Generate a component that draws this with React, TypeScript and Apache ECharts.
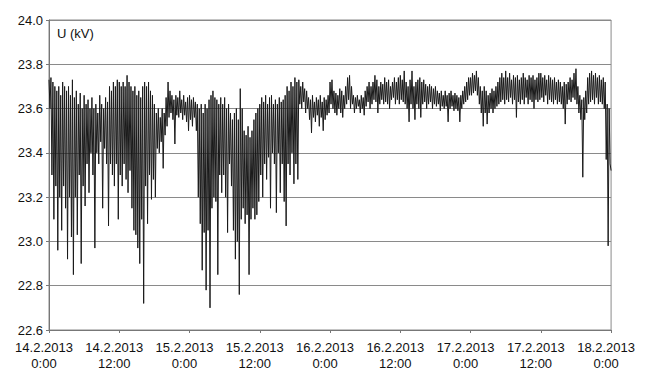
import React, { useEffect, useRef } from "react";
import * as echarts from "echarts";

// 10-minute samples starting 14.2.2013 0:00, values in kV
const day14am = [
  23.73, 23.60, 23.74, 23.30, 23.72, 23.10, 23.70, 23.25, 23.68, 22.96, 23.70, 23.20,
  23.66, 23.05, 23.72, 23.25, 23.70, 23.15, 23.68, 22.92, 23.70, 23.20, 23.66, 23.02,
  23.73, 22.85, 23.65, 23.20, 23.68, 23.03, 23.62, 23.30, 23.67, 22.90, 23.60, 23.25,
  23.66, 23.16, 23.62, 23.35, 23.64, 23.22, 23.60, 23.40, 23.65, 23.30, 23.60, 22.97,
  23.62, 23.40, 23.58, 23.35, 23.66, 23.45, 23.62, 23.15, 23.60, 23.42, 23.65, 23.35,
  23.63, 23.07, 23.70, 23.35, 23.68, 23.30, 23.72, 23.25, 23.70, 23.35, 23.73, 23.10,
];
const day14pm = [
  23.72, 23.30, 23.70, 23.25, 23.72, 23.35, 23.70, 23.28, 23.75, 23.22, 23.72, 23.32,
  23.70, 23.15, 23.68, 23.05, 23.70, 23.03, 23.66, 22.97, 23.68, 22.90, 23.65, 23.10,
  23.70, 22.72, 23.72, 23.25, 23.70, 23.08, 23.72, 23.30, 23.68, 23.19, 23.66, 23.28,
  23.62, 23.20, 23.58, 23.42, 23.60, 23.40, 23.56, 23.45, 23.60, 23.33, 23.58, 23.48,
  23.65, 23.52, 23.72, 23.56, 23.68, 23.58, 23.66, 23.55, 23.64, 23.44, 23.66, 23.57,
  23.65, 23.56, 23.68, 23.58, 23.64, 23.55, 23.66, 23.57, 23.63, 23.54, 23.65, 23.50,
];
const day15am = [
  23.66, 23.55, 23.64, 23.52, 23.65, 23.56, 23.63, 23.50, 23.62, 23.20, 23.60, 23.08,
  23.62, 22.87, 23.58, 23.04, 23.62, 22.78, 23.60, 23.05, 23.64, 22.70, 23.66, 23.15,
  23.68, 23.20, 23.65, 23.18, 23.64, 22.85, 23.62, 23.30, 23.65, 23.22, 23.62, 23.30,
  23.65, 23.20, 23.60, 23.04, 23.62, 23.35, 23.58, 23.25, 23.55, 23.05, 23.58, 22.92,
  23.60, 23.00, 23.55, 22.76, 23.69, 23.10, 23.60, 23.15, 23.50, 23.08, 23.48, 23.12,
  23.52, 22.85, 23.47, 23.10, 23.50, 23.15, 23.55, 23.10, 23.58, 23.12, 23.60, 23.18,
];
const day15pm = [
  23.62, 23.30, 23.65, 23.20, 23.63, 23.35, 23.66, 23.28, 23.62, 23.38, 23.65, 23.15,
  23.66, 23.40, 23.62, 23.35, 23.64, 23.13, 23.62, 23.40, 23.65, 23.22, 23.63, 23.35,
  23.64, 23.18, 23.66, 23.07, 23.70, 23.35, 23.68, 23.30, 23.72, 23.40, 23.70, 23.26,
  23.74, 23.35, 23.72, 23.28, 23.73, 23.62, 23.70, 23.60, 23.72, 23.63, 23.69, 23.58,
  23.68, 23.60, 23.65, 23.55, 23.64, 23.49, 23.66, 23.56, 23.63, 23.54, 23.65, 23.57,
  23.64, 23.52, 23.66, 23.56, 23.63, 23.50, 23.65, 23.55, 23.64, 23.57, 23.66, 23.58,
];
const day16am = [
  23.72, 23.62, 23.73, 23.60, 23.68, 23.58, 23.67, 23.57, 23.66, 23.60, 23.69, 23.58,
  23.68, 23.56, 23.66, 23.60, 23.70, 23.62, 23.74, 23.64, 23.75, 23.60, 23.70, 23.62,
  23.66, 23.58, 23.65, 23.60, 23.66, 23.61, 23.64, 23.58, 23.66, 23.60, 23.65, 23.57,
  23.68, 23.61, 23.70, 23.63, 23.72, 23.60, 23.70, 23.62, 23.72, 23.64, 23.75, 23.63,
  23.73, 23.58, 23.70, 23.62, 23.72, 23.64, 23.71, 23.62, 23.74, 23.63, 23.72, 23.62,
  23.73, 23.60, 23.70, 23.64, 23.72, 23.65, 23.74, 23.62, 23.72, 23.64, 23.74, 23.62,
];
const day16pm = [
  23.75, 23.64, 23.73, 23.63, 23.77, 23.62, 23.72, 23.60, 23.70, 23.54, 23.73, 23.62,
  23.77, 23.60, 23.70, 23.55, 23.72, 23.62, 23.73, 23.60, 23.74, 23.56, 23.72, 23.62,
  23.73, 23.63, 23.71, 23.60, 23.70, 23.62, 23.71, 23.63, 23.70, 23.60, 23.69, 23.62,
  23.70, 23.61, 23.68, 23.62, 23.67, 23.59, 23.68, 23.61, 23.66, 23.60, 23.68, 23.61,
  23.66, 23.54, 23.67, 23.60, 23.68, 23.61, 23.66, 23.59, 23.67, 23.60, 23.66, 23.59,
  23.65, 23.54, 23.66, 23.60, 23.68, 23.62, 23.70, 23.63, 23.72, 23.64, 23.74, 23.66,
];
const day17am = [
  23.74, 23.66, 23.76, 23.67, 23.75, 23.68, 23.77, 23.66, 23.74, 23.62, 23.70, 23.58,
  23.68, 23.52, 23.70, 23.58, 23.68, 23.53, 23.66, 23.58, 23.67, 23.60, 23.69, 23.58,
  23.68, 23.60, 23.70, 23.61, 23.72, 23.62, 23.74, 23.63, 23.76, 23.64, 23.74, 23.62,
  23.77, 23.64, 23.74, 23.63, 23.76, 23.65, 23.73, 23.62, 23.75, 23.64, 23.74, 23.56,
  23.75, 23.63, 23.73, 23.62, 23.74, 23.64, 23.76, 23.62, 23.74, 23.65, 23.73, 23.62,
  23.75, 23.64, 23.74, 23.63, 23.75, 23.60, 23.73, 23.64, 23.74, 23.63, 23.76, 23.64,
];
const day17pm = [
  23.76, 23.65, 23.74, 23.63, 23.75, 23.66, 23.73, 23.62, 23.75, 23.64, 23.74, 23.63,
  23.73, 23.62, 23.74, 23.64, 23.72, 23.62, 23.73, 23.63, 23.72, 23.62, 23.70, 23.60,
  23.72, 23.53, 23.71, 23.62, 23.72, 23.64, 23.74, 23.63, 23.73, 23.65, 23.76, 23.64,
  23.78, 23.62, 23.70, 23.58, 23.66, 23.55, 23.64, 23.29, 23.65, 23.55, 23.68, 23.58,
  23.74, 23.62, 23.76, 23.63, 23.77, 23.64, 23.75, 23.62, 23.76, 23.65, 23.74, 23.62,
  23.75, 23.63, 23.73, 23.62, 23.74, 23.60, 23.72, 23.37, 23.62, 22.98, 23.60, 23.35,
  23.32,
];

const tickLabels = [
  "14.2.2013\n0:00",
  "14.2.2013\n12:00",
  "15.2.2013\n0:00",
  "15.2.2013\n12:00",
  "16.2.2013\n0:00",
  "16.2.2013\n12:00",
  "17.2.2013\n0:00",
  "17.2.2013\n12:00",
  "18.2.2013\n0:00",
];

const yTitle = "U (kV)";

export default function App() {
  const ref = useRef<HTMLDivElement>(null);
  useEffect(() => {
    if (!ref.current) return;
    const chart = echarts.init(ref.current, undefined, { renderer: "svg" });
    const all = [
      ...day14am, ...day14pm, ...day15am, ...day15pm,
      ...day16am, ...day16pm, ...day17am, ...day17pm,
    ];
    const data = all.map((v, i) => [i / 6, v]);
    const font = "'Liberation Sans', Arial, sans-serif";
    chart.setOption({
      animation: false,
      backgroundColor: "#ffffff",
      grid: {
        left: 49,
        top: 20,
        width: 563,
        height: 310,
        show: true,
        borderColor: "#8a8a8a",
        borderWidth: 1,
      },
      xAxis: {
        type: "value",
        min: 0,
        max: 96,
        interval: 12,
        axisLine: { show: true, lineStyle: { color: "#777777", width: 1 } },
        axisTick: { show: true, length: 3, lineStyle: { color: "#777777" } },
        splitLine: { show: false },
        axisLabel: {
          show: true,
          showMinLabel: true,
          showMaxLabel: true,
          hideOverlap: false,
          color: "#111111",
          fontFamily: font,
          fontSize: 13,
          lineHeight: 16,
          margin: 9,
          padding: [0, 10, 0, 0],
          formatter: (v: number) => tickLabels[Math.round(v / 12)] ?? "",
        },
      },
      yAxis: {
        type: "value",
        min: 22.6,
        max: 24.0,
        interval: 0.2,
        axisLine: { show: true, lineStyle: { color: "#777777", width: 1 } },
        axisTick: { show: true, length: 3, lineStyle: { color: "#777777" } },
        splitLine: { show: true, lineStyle: { color: "#8a8a8a", width: 1 } },
        axisLabel: {
          showMinLabel: true,
          showMaxLabel: true,
          color: "#111111",
          fontFamily: font,
          fontSize: 13,
          margin: 6,
          formatter: (v: number) => v.toFixed(1),
        },
      },
      graphic: [
        {
          type: "text",
          left: 57,
          top: 27,
          style: {
            text: yTitle,
            fill: "#111111",
            font: `13px ${font}`,
          },
        },
      ],
      series: [
        {
          type: "line",
          data,
          showSymbol: false,
          symbol: "none",
          lineStyle: { color: "#1a1a1a", width: 1 },
          itemStyle: { color: "#1a1a1a" },
        },
      ],
    });
    return () => chart.dispose();
  }, []);
  return (
    <div
      ref={ref}
      style={{
        position: "fixed",
        left: 0,
        top: 0,
        width: 648,
        height: 386,
        background: "#ffffff",
      }}
    />
  );
}
